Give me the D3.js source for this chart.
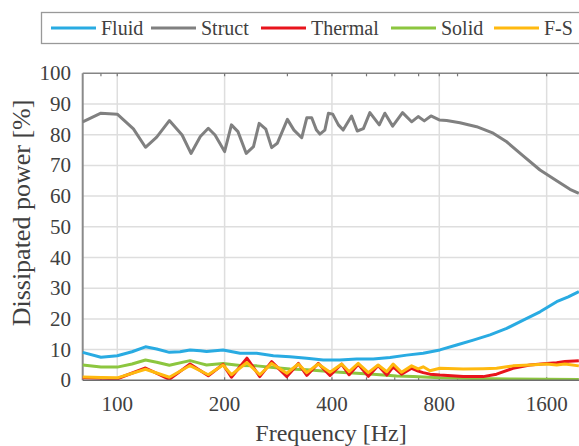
<!DOCTYPE html>
<meta charset="utf-8">
<style>
body { margin: 0; background: #fff; }
text { font-family: "Liberation Serif", "Times New Roman", serif; fill: #404040; }
</style>
<body>
<script src="https://cdn.jsdelivr.net/npm/d3@7"></script>
<script>

// series names and colours
var names  = ["Fluid", "Struct", "Thermal", "Solid", "F-S"];
var colors = ["#29abe2", "#808080", "#e8141c", "#8cc63f", "#ffb90f"];

// frequencies [Hz] and dissipated power [%]
var fluidF  = [80, 90, 100, 110, 120, 129, 140, 150, 160, 171, 178, 198, 221, 246, 274, 305, 340, 378, 421, 469, 522, 582, 648, 721, 803, 895, 996, 1110, 1236, 1376, 1533, 1707, 1840, 1970];
var fluidV  = [9.1, 7.5, 8.0, 9.3, 10.9, 10.2, 9.1, 9.3, 9.9, 9.6, 9.4, 9.9, 8.8, 8.8, 8.0, 7.7, 7.2, 6.6, 6.6, 6.9, 6.9, 7.4, 8.2, 8.8, 9.9, 11.5, 13.1, 14.8, 16.9, 19.6, 22.3, 25.6, 27.2, 28.9];

var structF = [80, 90, 100, 111, 120, 129, 140, 152, 161, 171, 180, 188, 200, 209, 218, 230, 241, 250, 261, 271, 281, 300, 313, 329, 340, 351, 362, 370, 382, 391, 402, 417, 430, 454, 471, 490, 511, 543, 563, 592, 631, 669, 698, 726, 758, 800, 839, 914, 1018, 1133, 1236, 1375, 1533, 1707, 1860, 1970];
var structV = [84.2, 87.0, 86.7, 81.9, 75.9, 79.2, 84.6, 79.9, 73.9, 79.4, 82.1, 79.9, 74.5, 83.2, 81.0, 73.9, 76.1, 83.7, 81.8, 75.8, 77.2, 85.0, 81.5, 79.0, 85.5, 85.5, 81.5, 80.2, 81.5, 87.0, 86.7, 83.2, 81.5, 86.1, 81.2, 82.0, 87.2, 83.2, 87.0, 82.8, 87.2, 84.2, 85.9, 84.5, 86.1, 84.8, 84.6, 83.9, 82.6, 80.5, 77.7, 73.1, 68.5, 65.0, 62.2, 60.9];

var solidF  = [80, 90, 100, 110, 120, 129, 140, 160, 171, 178, 198, 221, 246, 274, 305, 340, 378, 421, 469, 522, 582, 607, 676, 803, 996, 1287, 1970];
var solidV  = [5.0, 4.3, 4.3, 5.3, 6.6, 5.9, 4.9, 6.4, 5.5, 5.0, 5.5, 4.8, 4.7, 4.2, 3.7, 3.4, 3.0, 2.6, 2.3, 2.0, 1.6, 1.4, 1.2, 0.8, 0.6, 0.4, 0.3];

var osciF    = [80, 90, 100, 120, 140, 160, 180, 198, 209, 231, 251, 271, 299, 322, 340, 366, 395, 426, 447, 474, 506, 539, 570, 594, 627, 669, 698, 721, 753, 803, 934, 1062, 1158, 1287, 1436, 1600, 1707, 1800, 1970];
var thermalV = [0.8, 0.7, 0.5, 4.0, 0.3, 5.3, 1.5, 5.2, 1.0, 7.2, 1.2, 6.1, 1.2, 5.5, 1.6, 5.5, 1.6, 5.3, 1.8, 5.2, 1.3, 4.8, 1.7, 4.4, 2.0, 3.9, 3.0, 2.5, 2.0, 1.7, 1.2, 1.2, 2.0, 3.9, 5.0, 5.5, 5.7, 6.1, 6.4];
var fsV      = [1.1, 0.9, 0.8, 3.6, 1.0, 4.8, 1.8, 5.0, 1.8, 5.8, 1.8, 5.5, 2.3, 5.3, 2.5, 5.3, 2.6, 5.3, 2.8, 5.5, 2.5, 5.0, 2.8, 5.3, 2.6, 4.7, 3.7, 4.4, 3.1, 3.9, 3.7, 3.8, 3.9, 4.7, 5.0, 5.3, 5.0, 5.3, 4.7];

var yTicks = [0, 10, 20, 30, 40, 50, 60, 70, 80, 90, 100];
var xTicks = [100, 200, 400, 800, 1600];
var xMinor = [90, 100, 200, 300, 400, 500, 600, 700, 800, 900, 1600];

var series = [
  {name: "Fluid",   f: fluidF,  v: fluidV},
  {name: "Struct",  f: structF, v: structV},
  {name: "Solid",   f: solidF,  v: solidV},
  {name: "Thermal", f: osciF,   v: thermalV},
  {name: "F-S",     f: osciF,   v: fsV}
];

var W = 579, H = 446;
var pLeft = 82.7, pRight = 581.2, pTop = 73.3, pBottom = 380.3;

var svg = d3.select("body").append("svg")
    .attr("width", W)
    .attr("height", H);

var x = d3.scaleLog().domain([80, 2000]).range([pLeft, pRight]);
var y = d3.scaleLinear().domain([0, 100]).range([pBottom, pTop]);
var color = d3.scaleOrdinal().domain(names).range(colors);

// grid
svg.append("g").selectAll("line")
    .data(yTicks.filter(function(d) { return d > 0 && d < 100; }))
  .enter().append("line")
    .attr("x1", pLeft).attr("x2", pRight)
    .attr("y1", function(d) { return y(d); })
    .attr("y2", function(d) { return y(d); })
    .attr("stroke", "#dedede").attr("stroke-width", 1.5);

svg.append("g").selectAll("line")
    .data(xTicks)
  .enter().append("line")
    .attr("x1", function(d) { return x(d); })
    .attr("x2", function(d) { return x(d); })
    .attr("y1", pTop).attr("y2", pBottom)
    .attr("stroke", "#dedede").attr("stroke-width", 1.5);

// frame
svg.append("line").attr("x1", pLeft).attr("x2", pRight).attr("y1", pTop).attr("y2", pTop)
    .attr("stroke", "#858585").attr("stroke-width", 1.5);
svg.append("line").attr("x1", pLeft).attr("x2", pLeft).attr("y1", pTop).attr("y2", pBottom)
    .attr("stroke", "#8a8a8a").attr("stroke-width", 2);

// small ticks on top and bottom
svg.append("g").selectAll("line")
    .data(xMinor)
  .enter().append("line")
    .attr("x1", function(d) { return x(d); })
    .attr("x2", function(d) { return x(d); })
    .attr("y1", pTop).attr("y2", pTop + 3)
    .attr("stroke", "#777").attr("stroke-width", 1.2);
svg.append("g").selectAll("line")
    .data(xMinor)
  .enter().append("line")
    .attr("x1", function(d) { return x(d); })
    .attr("x2", function(d) { return x(d); })
    .attr("y1", pBottom).attr("y2", pBottom - 3)
    .attr("stroke", "#777").attr("stroke-width", 1.2);

// lines
var line = d3.line()
    .x(function(d) { return x(d[0]); })
    .y(function(d) { return y(d[1]); });

svg.append("g").selectAll("path")
    .data(series)
  .enter().append("path")
    .attr("fill", "none")
    .attr("stroke", function(d) { return color(d.name); })
    .attr("stroke-width", 3)
    .attr("stroke-linejoin", "round")
    .attr("d", function(d) { return line(d3.zip(d.f, d.v)); });

// bottom axis line over the lines
svg.append("line").attr("x1", pLeft).attr("x2", pRight).attr("y1", pBottom).attr("y2", pBottom)
    .attr("stroke", "#6e6e6e").attr("stroke-width", 1.5);

// tick labels
svg.append("g").selectAll("text")
    .data(yTicks)
  .enter().append("text")
    .attr("x", 71)
    .attr("y", function(d) { return y(d) + 7; })
    .attr("text-anchor", "end")
    .style("font-size", "21px")
    .text(function(d) { return d; });

svg.append("g").selectAll("text")
    .data(xTicks)
  .enter().append("text")
    .attr("x", function(d) { return x(d); })
    .attr("y", 411)
    .attr("text-anchor", "middle")
    .style("font-size", "21px")
    .text(function(d) { return d; });

// axis titles
svg.append("text")
    .attr("x", 331).attr("y", 441)
    .attr("text-anchor", "middle")
    .style("font-size", "24px")
    .text("Frequency [Hz]");

svg.append("text")
    .attr("transform", "translate(30,213) rotate(-90)")
    .attr("text-anchor", "middle")
    .style("font-size", "26px")
    .text("Dissipated power [%]");

// legend
var legX = [51, 151, 261, 391, 494];
svg.append("rect")
    .attr("x", 41.5).attr("y", 12.5)
    .attr("width", 560).attr("height", 31)
    .attr("fill", "#fff").attr("stroke", "#999").attr("stroke-width", 1.3);

var leg = svg.append("g").selectAll("g")
    .data(names)
  .enter().append("g")
    .attr("transform", function(d, i) { return "translate(" + legX[i] + ",28)"; });
leg.append("line")
    .attr("x1", 0).attr("x2", 45)
    .attr("stroke", function(d) { return color(d); })
    .attr("stroke-width", 3);
leg.append("text")
    .attr("x", 50).attr("y", 6.5)
    .style("font-size", "20px")
    .text(function(d) { return d; });

</script>
</body>
